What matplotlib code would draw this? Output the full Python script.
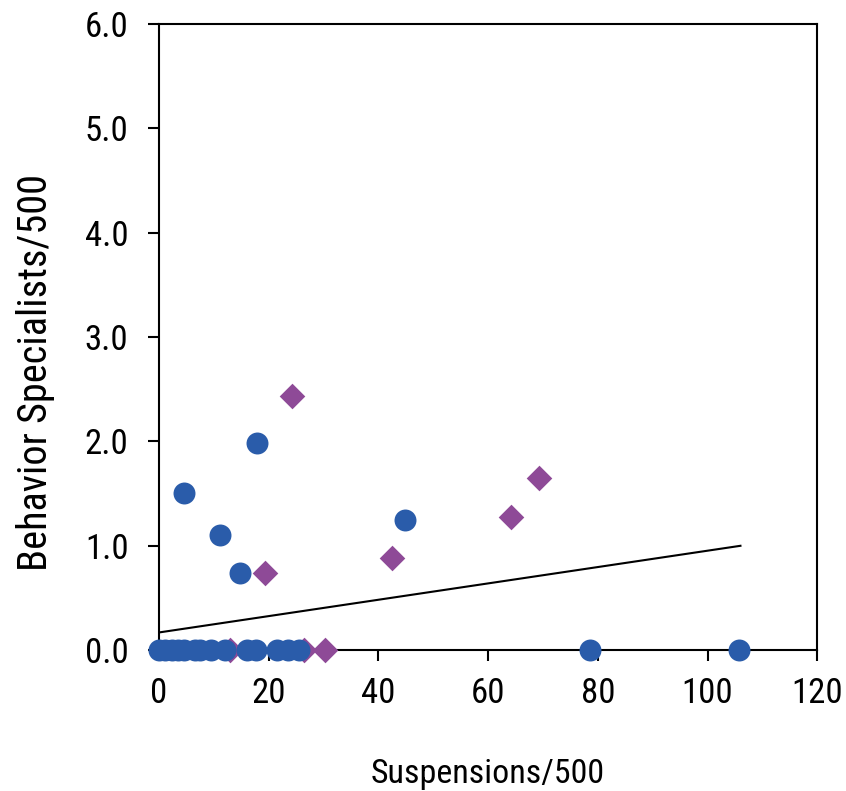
import matplotlib
matplotlib.use('Agg')
from matplotlib import pyplot as plt

# 数据：蓝色圆点和紫色菱形
blue_x = [4.6, 11.1, 14.8, 17.9, 44.9, 78.5, 105.8,
          0, 1.0, 2.4, 3.5, 4.5, 6.5, 7.5, 9.5, 12.0, 16.0, 17.7, 21.5, 23.5, 25.5]
blue_y = [1.51, 1.10, 0.74, 1.98, 1.25, 0, 0,
          0, 0, 0, 0, 0, 0, 0, 0, 0, 0, 0, 0, 0, 0]
purple_x = [24.3, 19.3, 42.5, 64.2, 69.2, 13.0, 26.5, 30.2]
purple_y = [2.43, 0.74, 0.88, 1.28, 1.65, 0, 0, 0]

# 趋势线端点
trend_x = [0, 106]
trend_y = [0.17, 1.0]

x_ticks = [0, 20, 40, 60, 80, 100, 120]
y_ticks = [0.0, 1.0, 2.0, 3.0, 4.0, 5.0, 6.0]

plt.rcParams['font.family'] = ['Roboto Condensed', 'DejaVu Sans']

fig = plt.figure(figsize=(8.46, 7.91), dpi=100)
ax = fig.add_axes([0.188, 0.178, 0.778, 0.792])

ax.plot(trend_x, trend_y, color='black', linewidth=1.5, zorder=2)
ax.scatter(purple_x, purple_y, marker='D', s=170, color='#8E4A97', linewidths=0, zorder=3, clip_on=False)
ax.scatter(blue_x, blue_y, marker='o', s=250, color='#2A5CAA', linewidths=0, zorder=4, clip_on=False)

ax.set_xlim(0, 120)
ax.set_ylim(0, 6)
ax.set_xticks(x_ticks)
ax.set_yticks(y_ticks)
ax.set_yticklabels(['%.1f' % v for v in y_ticks])

for s in ax.spines.values():
    s.set_linewidth(1.5)
ax.tick_params(axis='both', which='major', labelsize=25, length=8, width=1.5, direction='out')
ax.tick_params(axis='x', pad=11)
ax.tick_params(axis='y', pad=14)

ax.set_xlabel('Suspensions/500', fontsize=24.5, labelpad=35)
ax.set_ylabel('Behavior Specialists/500', fontsize=29)
# 纵轴标题略偏下
ax.yaxis.set_label_coords(-0.158, 0.4425)

fig.savefig('out.png', dpi=100)
